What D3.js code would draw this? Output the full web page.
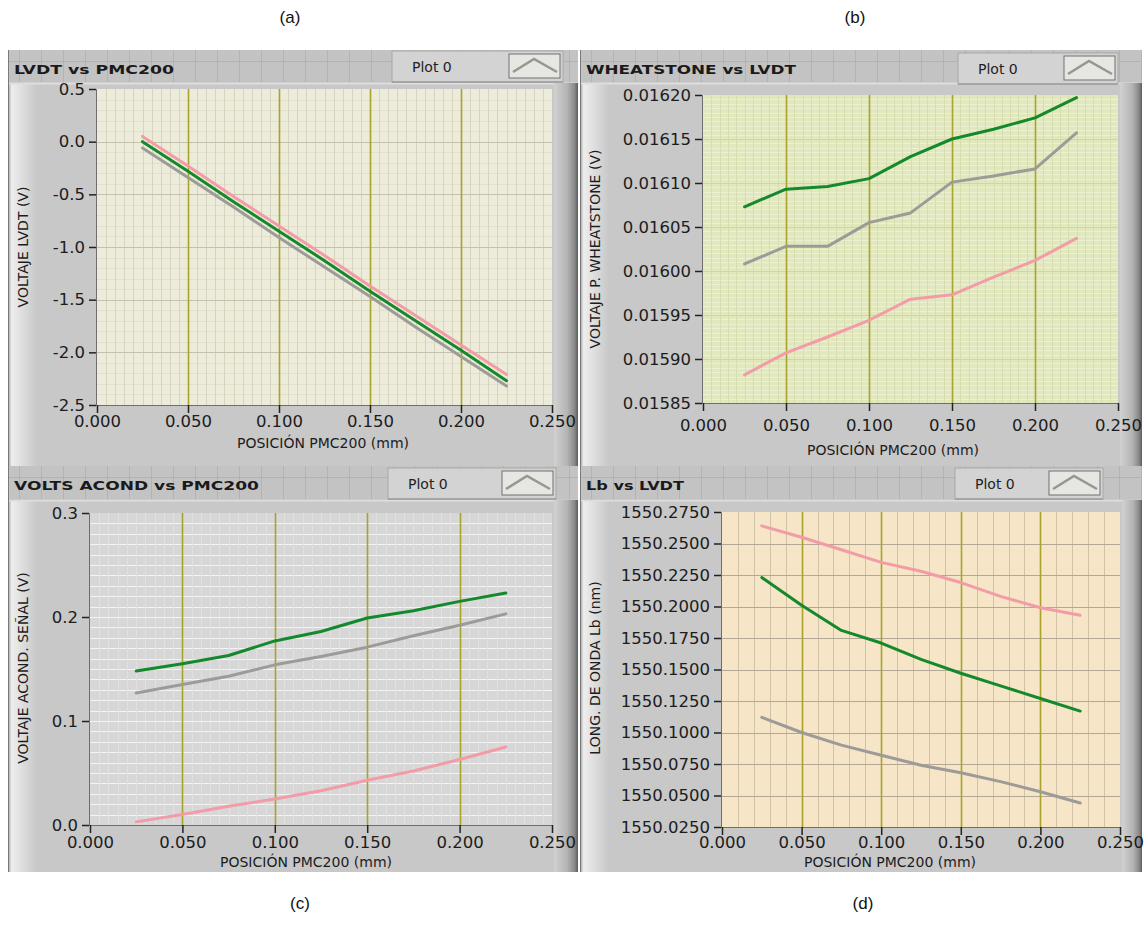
<!DOCTYPE html>
<html>
<head>
<meta charset="utf-8">
<script src="https://cdn.jsdelivr.net/npm/d3@7"></script>
<style>
  body { margin: 0; background: #ffffff; }
  svg { display: block; }
</style>
</head>
<body>
<svg id="chart" width="1148" height="946"></svg>
<script>
// ---- data ---------------------------------------------------------------
const positions = [0.025, 0.05, 0.075, 0.1, 0.125, 0.15, 0.175, 0.2, 0.225];

// (a) LVDT voltage vs PMC200 position
const lvdtPink  = [0.05, -0.23, -0.52, -0.80, -1.08, -1.37, -1.65, -1.93, -2.21];
const lvdtGreen = [0.00, -0.28, -0.57, -0.85, -1.13, -1.42, -1.70, -1.98, -2.27];
const lvdtGray  = [-0.06, -0.34, -0.62, -0.91, -1.19, -1.47, -1.76, -2.04, -2.32];

// (b) Wheatstone bridge voltage
const wheatGreen = [0.016073, 0.016093, 0.016096, 0.016105, 0.016130, 0.016150, 0.016161, 0.016174, 0.016197];
const wheatGray  = [0.016008, 0.016028, 0.016028, 0.016055, 0.016066, 0.016101, 0.016108, 0.016116, 0.016157];
const wheatPink  = [0.015882, 0.015907, 0.015925, 0.015944, 0.015968, 0.015973, 0.015993, 0.016012, 0.016037];

// (c) conditioned signal voltage
const acondGreen = [0.148, 0.155, 0.163, 0.177, 0.186, 0.199, 0.206, 0.215, 0.223];
const acondGray  = [0.127, 0.135, 0.143, 0.154, 0.162, 0.171, 0.182, 0.192, 0.203];
const acondPink  = [0.003, 0.010, 0.018, 0.025, 0.033, 0.043, 0.052, 0.063, 0.075];

// (d) Bragg wavelength
const lbPink  = [1550.264, 1550.255, 1550.245, 1550.235, 1550.228, 1550.219, 1550.208, 1550.199, 1550.193];
const lbGreen = [1550.223, 1550.201, 1550.181, 1550.171, 1550.158, 1550.147, 1550.137, 1550.127, 1550.117];
const lbGray  = [1550.112, 1550.100, 1550.090, 1550.082, 1550.074, 1550.068, 1550.061, 1550.053, 1550.044];

// tick values
const xTickValues = [0, 0.05, 0.1, 0.15, 0.2, 0.25];
const lvdtTicks  = [0.5, 0.0, -0.5, -1.0, -1.5, -2.0, -2.5];
const wheatTicks = [0.0162, 0.01615, 0.0161, 0.01605, 0.016, 0.01595, 0.0159, 0.01585];
const acondTicks = [0.3, 0.2, 0.1, 0.0];
const lbTicks    = [1550.275, 1550.25, 1550.225, 1550.2, 1550.175, 1550.15, 1550.125, 1550.1, 1550.075, 1550.05, 1550.025];

// texts
const panelLetters = ["(a)", "(b)", "(c)", "(d)"];
const graphTitles  = ["LVDT vs PMC200", "WHEATSTONE vs LVDT", "VOLTS ACOND vs PMC200", "Lb vs LVDT"];
const yTitles      = ["VOLTAJE LVDT (V)", "VOLTAJE P. WHEATSTONE (V)", "VOLTAJE ACOND. SEÑAL (V)", "LONG. DE ONDA Lb (nm)"];
const xTitle       = "POSICIÓN PMC200 (mm)";
const legendLabel  = "Plot 0";

// ---- drawing -------------------------------------------------------------
const COLORS = { pink: "#f29ca7", green: "#14892c", gray: "#9c9b97", olive: "#a9a22c" };
const svg = d3.select("#chart");
const defs = svg.append("defs");
const FONT = "'DejaVu Sans', Verdana, sans-serif";

const leftGlow = defs.append("linearGradient").attr("id", "leftGlow").attr("x1", 0).attr("x2", 1);
leftGlow.append("stop").attr("offset", 0).attr("stop-color", "#9a9a9a");
leftGlow.append("stop").attr("offset", 0.12).attr("stop-color", "#eeeeee");
leftGlow.append("stop").attr("offset", 1).attr("stop-color", "#c6c6c6");

const rightBar = defs.append("linearGradient").attr("id", "rightBar").attr("x1", 0).attr("x2", 1);
rightBar.append("stop").attr("offset", 0).attr("stop-color", "#d2d2d2");
rightBar.append("stop").attr("offset", 0.55).attr("stop-color", "#b4b4b4");
rightBar.append("stop").attr("offset", 0.85).attr("stop-color", "#8a8a8a");
rightBar.append("stop").attr("offset", 1).attr("stop-color", "#5e5e5e");

const panels = [
  {
    frame: { x: 8, y: 50, w: 570, h: 417 }, header: 33,
    plot: { l: 97, r: 552, t: 89, b: 405 },
    yDomain: [-2.5, 0.5], yTicks: lvdtTicks, yFmt: v => v.toFixed(1),
    series: [lvdtGray, lvdtPink, lvdtGreen], seriesColors: [COLORS.gray, COLORS.pink, COLORS.green],
    bg: "#edecda",
    minorX: { step: 0.005, color: "#d6d4bf" },
    minorY: { step: 0.1, color: "#e2e0cc" },
    majorY: { color: "#c4c1ad" },
    titleLen: 160, yTitleX: 24, yTitleY: 247,
    tickLabelY: 422, xTitleY: 448, xTitleX: 323,
    legend: { x: 392, y: 51, w: 171 }, letterX: 290
  },
  {
    frame: { x: 580, y: 50, w: 562, h: 417 }, header: 33,
    plot: { l: 703, r: 1118, t: 95, b: 403 },
    yDomain: [0.01585, 0.0162], yTicks: wheatTicks, yFmt: v => v.toFixed(5),
    series: [wheatPink, wheatGray, wheatGreen], seriesColors: [COLORS.pink, COLORS.gray, COLORS.green],
    bg: "#e2e8bd",
    minorX: { step: 0.005, color: "#d7ddae" },
    minorY: { step: 0.000005, color: "#edf1d4" },
    majorY: { color: "#d0d6a8" },
    titleLen: 210, yTitleX: 596, yTitleY: 249,
    tickLabelY: 426, xTitleY: 455, xTitleX: 893,
    legend: { x: 958, y: 53, w: 160 }, letterX: 855
  },
  {
    frame: { x: 8, y: 466, w: 570, h: 406 }, header: 34,
    plot: { l: 90, r: 552, t: 513, b: 825 },
    yDomain: [0, 0.3], yTicks: acondTicks, yFmt: v => v.toFixed(1),
    series: [acondPink, acondGray, acondGreen], seriesColors: [COLORS.pink, COLORS.gray, COLORS.green],
    bg: "#d7d7d7",
    minorX: { step: 0.005, color: "#e1e1e1" },
    minorY: { step: 0.01, color: "#f4f4f4" },
    majorY: { color: "#f4f4f4" },
    titleLen: 245, yTitleX: 24, yTitleY: 668,
    tickLabelY: 843, xTitleY: 867, xTitleX: 306,
    legend: { x: 388, y: 468, w: 168 }, letterX: 300
  },
  {
    frame: { x: 580, y: 466, w: 562, h: 406 }, header: 34,
    plot: { l: 722, r: 1120, t: 512, b: 827 },
    yDomain: [1550.025, 1550.275], yTicks: lbTicks, yFmt: v => v.toFixed(4),
    series: [lbPink, lbGreen, lbGray], seriesColors: [COLORS.pink, COLORS.green, COLORS.gray],
    bg: "#f6e5c6",
    minorX: { step: 0.01, color: "#cfc2a9" },
    minorY: null,
    majorY: { color: "#b3a895" },
    titleLen: 98, yTitleX: 596, yTitleY: 668,
    tickLabelY: 843, xTitleY: 867, xTitleX: 890,
    legend: { x: 955, y: 468, w: 148 }, letterX: 863
  }
];

function drawPanel(p, i) {
  const g = svg.append("g");
  const f = p.frame, pl = p.plot;

  // frame body
  g.append("rect").attr("x", f.x).attr("y", f.y).attr("width", f.w).attr("height", f.h).attr("fill", "#c9c9c9");
  // header strip with the front-panel grid
  g.append("rect").attr("x", f.x).attr("y", f.y).attr("width", f.w).attr("height", p.header).attr("fill", "#c3c3c3");
  const hg = g.append("g").attr("stroke", "#b3b3b3").attr("stroke-width", 1);
  for (let gx = f.x + 11; gx < f.x + f.w; gx += 22) {
    hg.append("line").attr("x1", gx + 0.5).attr("x2", gx + 0.5).attr("y1", f.y).attr("y2", f.y + p.header);
  }
  for (let gy = f.y + 11; gy < f.y + p.header; gy += 22) {
    hg.append("line").attr("x1", f.x).attr("x2", f.x + f.w).attr("y1", gy + 0.5).attr("y2", gy + 0.5);
  }
  // body below the header
  g.append("rect").attr("x", f.x).attr("y", f.y + p.header).attr("width", f.w).attr("height", f.h - p.header).attr("fill", "#c8c8c8");
  g.append("rect").attr("x", f.x).attr("y", f.y + p.header).attr("width", 30).attr("height", f.h - p.header).attr("fill", "url(#leftGlow)");
  g.append("line").attr("x1", f.x).attr("x2", f.x + f.w).attr("y1", f.y + p.header + 0.5).attr("y2", f.y + p.header + 0.5).attr("stroke", "#dedede").attr("stroke-width", 2);
  // right bevel
  const rbX = pl.r + 2;
  g.append("rect").attr("x", rbX).attr("y", f.y + p.header).attr("width", f.x + f.w - rbX).attr("height", f.h - p.header).attr("fill", "url(#rightBar)");
  g.append("line").attr("x1", f.x + 0.5).attr("x2", f.x + 0.5).attr("y1", f.y).attr("y2", f.y + f.h).attr("stroke", "#7a7a7a");

  // title
  g.append("text").attr("x", f.x + 6).attr("y", f.y + 24)
    .attr("font-family", FONT).attr("font-weight", "bold").attr("font-size", 13)
    .attr("textLength", p.titleLen).attr("lengthAdjust", "spacingAndGlyphs")
    .attr("fill", "#1a1a1a").text(graphTitles[i]);

  // legend
  const lg = p.legend;
  g.append("rect").attr("x", lg.x).attr("y", lg.y).attr("width", lg.w).attr("height", 31)
    .attr("fill", "#d3d3d3").attr("stroke", "#a8a8a8");
  g.append("line").attr("x1", lg.x).attr("x2", lg.x + lg.w).attr("y1", lg.y + 31).attr("y2", lg.y + 31).attr("stroke", "#8e8e8e");
  g.append("text").attr("x", lg.x + 20).attr("y", lg.y + 21)
    .attr("font-family", FONT).attr("font-size", 14).attr("fill", "#222").text(legendLabel);
  const ix = lg.x + lg.w - 54;
  g.append("rect").attr("x", ix).attr("y", lg.y + 3).attr("width", 51).attr("height", 24)
    .attr("fill", "#e6e6e3").attr("stroke", "#707070");
  g.append("path").attr("d", `M${ix + 4},${lg.y + 21} L${ix + 25},${lg.y + 8} L${ix + 48},${lg.y + 21}`)
    .attr("fill", "none").attr("stroke", "#97968f").attr("stroke-width", 2.5);

  // scales
  const x = d3.scaleLinear().domain([0, 0.25]).range([pl.l, pl.r]);
  const y = d3.scaleLinear().domain(p.yDomain).range([pl.b, pl.t]);

  // plot background and grid
  const pg = g.append("g");
  pg.append("rect").attr("x", pl.l).attr("y", pl.t).attr("width", pl.r - pl.l).attr("height", pl.b - pl.t).attr("fill", p.bg);
  if (p.minorY) {
    const n = Math.round((p.yDomain[1] - p.yDomain[0]) / p.minorY.step);
    pg.selectAll(null).data(d3.range(1, n)).join("line")
      .attr("x1", pl.l).attr("x2", pl.r)
      .attr("y1", k => Math.round(y(p.yDomain[0] + k * p.minorY.step)) + 0.5)
      .attr("y2", k => Math.round(y(p.yDomain[0] + k * p.minorY.step)) + 0.5)
      .attr("stroke", p.minorY.color).attr("stroke-width", 1);
  }
  const nx = Math.round(0.25 / p.minorX.step);
  pg.selectAll(null).data(d3.range(1, nx)).join("line")
    .attr("y1", pl.t).attr("y2", pl.b)
    .attr("x1", k => Math.round(x(k * p.minorX.step)) + 0.5)
    .attr("x2", k => Math.round(x(k * p.minorX.step)) + 0.5)
    .attr("stroke", p.minorX.color).attr("stroke-width", 1);
  pg.selectAll(null).data(p.yTicks.slice(1, -1)).join("line")
    .attr("x1", pl.l).attr("x2", pl.r)
    .attr("y1", v => Math.round(y(v)) + 0.5).attr("y2", v => Math.round(y(v)) + 0.5)
    .attr("stroke", p.majorY.color).attr("stroke-width", 1.2);
  pg.selectAll(null).data(xTickValues.slice(1, -1)).join("line")
    .attr("y1", pl.t).attr("y2", pl.b)
    .attr("x1", v => Math.round(x(v)) + 0.5).attr("x2", v => Math.round(x(v)) + 0.5)
    .attr("stroke", COLORS.olive).attr("stroke-width", 1.6);

  // axes
  const yAxis = d3.axisLeft(y).tickValues(p.yTicks).tickFormat(p.yFmt).tickSize(7).tickPadding(4);
  const ya = g.append("g").attr("transform", `translate(${pl.l - 1},0)`).call(yAxis);
  const xAxis = d3.axisBottom(x).tickValues(xTickValues).tickFormat(v => v.toFixed(3)).tickSize(8).tickPadding(6);
  const xa = g.append("g").attr("transform", `translate(0,${pl.b})`).call(xAxis);
  [ya, xa].forEach(a => {
    a.select(".domain").attr("stroke", "#6e6e6e");
    a.selectAll(".tick line").attr("stroke", "#222").attr("stroke-width", 1.5);
    a.selectAll("text").attr("font-family", FONT).attr("font-size", 16.5).attr("fill", "#1c1c1c");
  });
  xa.selectAll(".tick text").attr("y", null).attr("dy", null).attr("dominant-baseline", "middle")
    .attr("transform", `translate(0,${p.tickLabelY - pl.b})`);

  // axis titles
  g.append("text").attr("x", p.xTitleX).attr("y", p.xTitleY).attr("text-anchor", "middle")
    .attr("font-family", FONT).attr("font-size", 14).attr("fill", "#1c1c1c").text(xTitle);
  g.append("text").attr("transform", `translate(${p.yTitleX},${p.yTitleY}) rotate(-90)`)
    .attr("text-anchor", "middle").attr("dominant-baseline", "middle")
    .attr("font-family", FONT).attr("font-size", 14).attr("fill", "#1c1c1c").text(yTitles[i]);

  // series
  const line = d3.line().x((d, k) => x(positions[k])).y(d => y(d));
  p.series.forEach((vals, s) => {
    g.append("path").datum(vals).attr("d", line)
      .attr("fill", "none").attr("stroke", p.seriesColors[s]).attr("stroke-width", 3)
      .attr("stroke-linejoin", "round").attr("stroke-linecap", "round");
  });
}

panels.forEach(drawPanel);

// panel letters
const letterYs = [19, 19, 905, 905];
panels.forEach((p, i) => {
  svg.append("text").attr("x", p.letterX).attr("y", letterYs[i])
    .attr("text-anchor", "middle").attr("dominant-baseline", "middle")
    .attr("font-family", "'Liberation Sans', Arial, sans-serif").attr("font-size", 17)
    .attr("fill", "#111").text(panelLetters[i]);
});
</script>
</body>
</html>
